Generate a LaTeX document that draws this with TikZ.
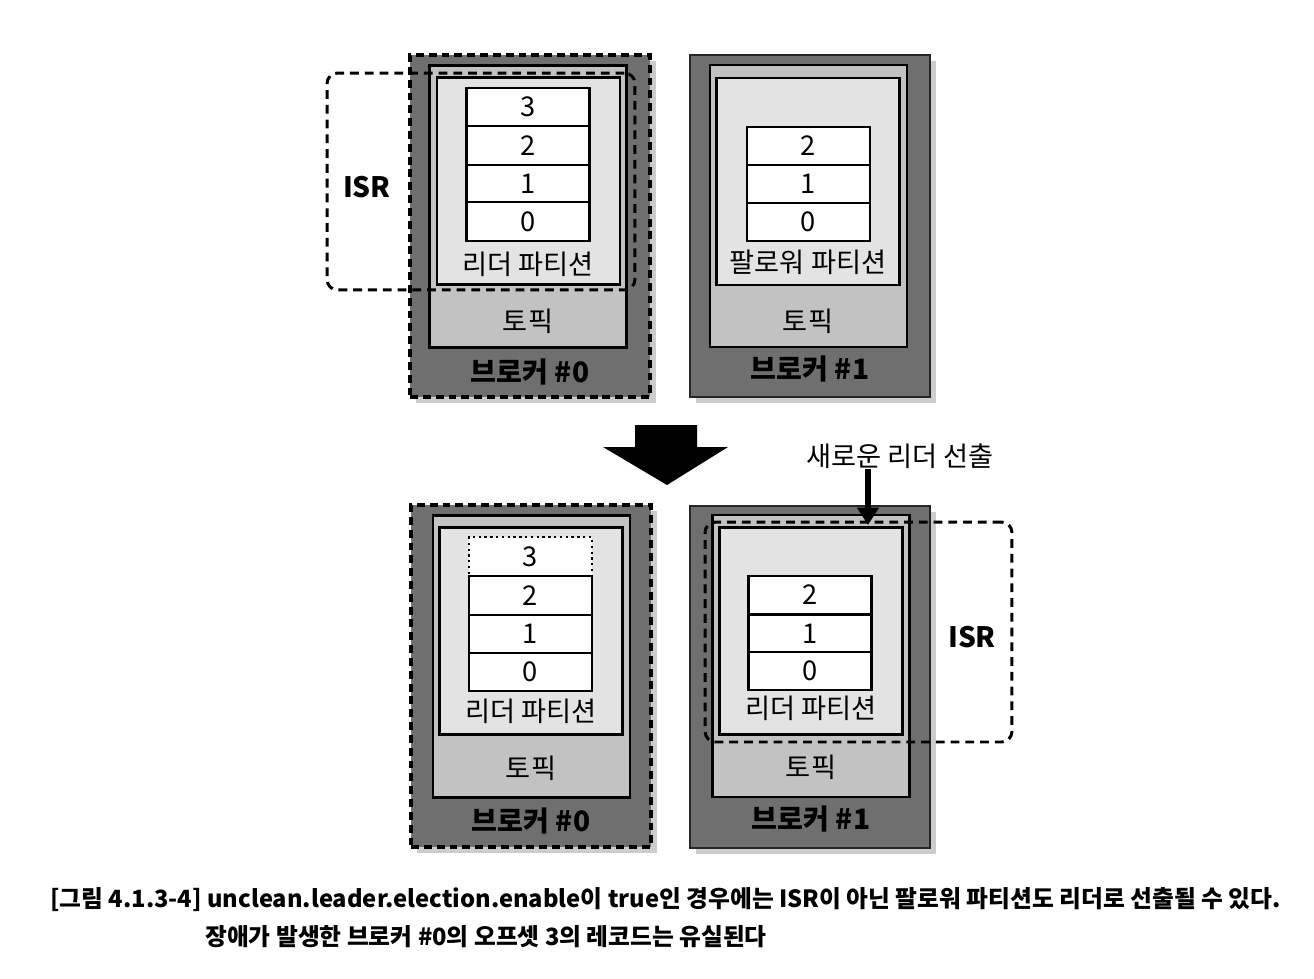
\documentclass[tikz,border=0pt]{standalone}
\usepackage{fontspec}
\setmainfont{Noto Sans CJK KR}
\usetikzlibrary{positioning, arrows.meta, shadows}
\definecolor{brokergray}{HTML}{6F6F6F}
\definecolor{topicgray}{HTML}{C2C2C2}
\definecolor{partgray}{HTML}{E3E3E3}
\tikzset{
  broker/.style={draw=black!85, line width=0.9pt, fill=brokergray, minimum width=4.8cm, minimum height=6.84cm, inner sep=0pt,
    drop shadow={shadow xshift=1.2mm, shadow yshift=-1.2mm, opacity=0.4}},
  downbroker/.style={broker, draw=black, line width=1.8pt, dash pattern=on 4.5pt off 2.8pt},
  topic/.style={draw, line width=1.6pt, fill=topicgray, minimum width=3.94cm, minimum height=5.64cm, inner sep=0pt},
  part/.style={draw, line width=1.3pt, fill=partgray, minimum width=3.66cm, minimum height=4.14cm, inner sep=0pt},
  rec/.style={draw, line width=1.3pt, fill=white, minimum width=2.46cm, minimum height=0.77cm, inner sep=0pt, font=\fontsize{15.5}{15.5}\selectfont},
  lostrec/.style={rec, dotted, line width=1pt},
  lbl/.style={font=\fontsize{15.5}{15.5}\selectfont, inner sep=0pt},
  blbl/.style={font=\bfseries\fontsize{16}{16}\selectfont, inner sep=0pt},
  isrbox/.style={draw, line width=1.7pt, dash pattern=on 5pt off 3.4pt, rounded corners=6pt, inner sep=0pt},
  capt/.style={font=\bfseries\fontsize{13.5}{13.5}\selectfont, inner sep=0pt, anchor=west},
  arr/.style={-{Triangle[length=3.5mm, width=4.2mm]}, line width=3pt},
}
\begin{document}
\begin{tikzpicture}[x=0.02cm, y=-0.02cm]
\fill[white] (0,0) rectangle (1314,978);
\useasboundingbox (0,0) rectangle (1314,978);
% before: broker #0 fails
\node[downbroker] (brk0) at (530,226) {};
\node[topic] (tpc0) at (528,206.5) {};
\node[part] (prt0) at (528.5,181) {};
\foreach \v/\y in {3/107,2/145.5,1/184,0/221.5}
  \node[rec] (r0-\v) at (528,\y) {\v};
\node[lbl] (pl0) at (528,264) {리더 파티션};
\node[lbl] (tl0) at (528,321) {토픽};
\node[blbl] (bl0) at (530,372) {브로커 \#0};
\node[broker] (brk1) at (810,226) {};
\node[topic] (tpc1) at (808.5,206) {};
\node[part] (prt1) at (808,181.5) {};
\foreach \v/\y in {2/146,1/184,0/222}
  \node[rec] (r1-\v) at (808.5,\y) {\v};
\node[lbl] (pl1) at (808,262) {팔로워 파티션};
\node[lbl] (tl1) at (808,321) {토픽};
\node[blbl] (bl1) at (810,369) {브로커 \#1};
\node[isrbox, minimum width=6.16cm, minimum height=4.34cm] (isr0) at (481,181.5) {};
\node[blbl, font=\bfseries\fontsize{16}{16}\selectfont] (isrl0) at (367,187) {ISR};
% transition
\fill (635,425) -- (697,425) -- (697,447) -- (728,447) -- (667,485) -- (603,447) -- (635,447) -- cycle;
% after: follower becomes leader
\node[downbroker] (brk2) at (531,676) {};
\node[topic] (tpc2) at (531.5,656.5) {};
\node[part] (prt2) at (531,631) {};
\node[lostrec] (r2-3) at (530.5,556.5) {3};
\foreach \v/\y in {2/595.5,1/634,0/672}
  \node[rec] (r2-\v) at (530.5,\y) {\v};
\node[lbl] (pl2) at (531,711) {리더 파티션};
\node[lbl] (tl2) at (531,768) {토픽};
\node[blbl] (bl2) at (531,821) {브로커 \#0};
\node[broker] (brk3) at (810,677) {};
\node[topic] (tpc3) at (811,656) {};
\node[part] (prt3) at (811,631) {};
\foreach \v/\y in {2/595,1/634,0/671}
  \node[rec] (r3-\v) at (810,\y) {\v};
\node[lbl] (pl3) at (811,708) {리더 파티션};
\node[lbl] (tl3) at (811,767) {토픽};
\node[blbl] (bl3) at (811,819) {브로커 \#1};
\node[isrbox, minimum width=6.14cm, minimum height=4.4cm] (isr1) at (858.5,632) {};
\node[blbl, font=\bfseries\fontsize{16}{16}\selectfont] (isrl1) at (972,637) {ISR};
\node[lbl] (newl) at (900,456) {새로운 리더 선출};
\coordinate (elect) at (868,525);
\draw[arr] (newl.south -| elect) -- (elect);
% caption
\node[capt] (cap1) at (50,900) {[그림 4.1.3-4] unclean.leader.election.enable이 true인 경우에는 ISR이 아닌 팔로워 파티션도 리더로 선출될 수 있다.};
\node[capt] (cap2) at (205,937) {장애가 발생한 브로커 \#0의 오프셋 3의 레코드는 유실된다};
\end{tikzpicture}
\end{document}
